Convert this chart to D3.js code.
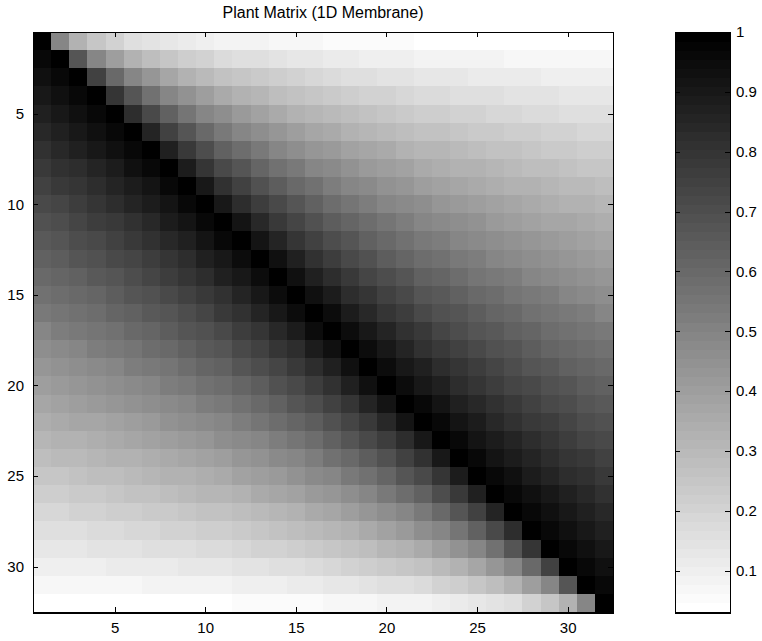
<!DOCTYPE html>
<html>
<head>
<meta charset="utf-8">
<script src="https://cdn.jsdelivr.net/npm/d3@7"></script>
<style>
  html, body { margin: 0; padding: 0; background: #fff; }
  svg { display: block; font-family: "Liberation Sans", Arial, Helvetica, sans-serif; }
</style>
</head>
<body>
<svg id="chart" width="762" height="641"></svg>
<script>
// Normalised plant (influence) matrix of a 1D membrane, 32 x 32, row by row.
const plantMatrix = [
  [1,.500,.333,.250,.200,.167,.143,.125,.111,.100,.091,.083,.077,.071,.067,.063,.059,.056,.053,.050,.048,.045,.043,.042,.040,.038,.037,.036,.034,.033,.032,.031],
  [.969,1,.667,.500,.400,.333,.286,.250,.222,.200,.182,.167,.154,.143,.133,.125,.118,.111,.105,.100,.095,.091,.087,.083,.080,.077,.074,.071,.069,.067,.065,.063],
  [.938,.968,1,.750,.600,.500,.429,.375,.333,.300,.273,.250,.231,.214,.200,.188,.176,.167,.158,.150,.143,.136,.130,.125,.120,.115,.111,.107,.103,.100,.097,.094],
  [.906,.935,.967,1,.800,.667,.571,.500,.444,.400,.364,.333,.308,.286,.267,.250,.235,.222,.211,.200,.190,.182,.174,.167,.160,.154,.148,.143,.138,.133,.129,.125],
  [.875,.903,.933,.966,1,.833,.714,.625,.556,.500,.455,.417,.385,.357,.333,.313,.294,.278,.263,.250,.238,.227,.217,.208,.200,.192,.185,.179,.172,.167,.161,.156],
  [.844,.871,.900,.931,.964,1,.857,.750,.667,.600,.545,.500,.462,.429,.400,.375,.353,.333,.316,.300,.286,.273,.261,.250,.240,.231,.222,.214,.207,.200,.194,.188],
  [.813,.839,.867,.897,.929,.963,1,.875,.778,.700,.636,.583,.538,.500,.467,.438,.412,.389,.368,.350,.333,.318,.304,.292,.280,.269,.259,.250,.241,.233,.226,.219],
  [.781,.806,.833,.862,.893,.926,.962,1,.889,.800,.727,.667,.615,.571,.533,.500,.471,.444,.421,.400,.381,.364,.348,.333,.320,.308,.296,.286,.276,.267,.258,.250],
  [.750,.774,.800,.828,.857,.889,.923,.960,1,.900,.818,.750,.692,.643,.600,.563,.529,.500,.474,.450,.429,.409,.391,.375,.360,.346,.333,.321,.310,.300,.290,.281],
  [.719,.742,.767,.793,.821,.852,.885,.920,.958,1,.909,.833,.769,.714,.667,.625,.588,.556,.526,.500,.476,.455,.435,.417,.400,.385,.370,.357,.345,.333,.323,.313],
  [.688,.710,.733,.759,.786,.815,.846,.880,.917,.957,1,.917,.846,.786,.733,.688,.647,.611,.579,.550,.524,.500,.478,.458,.440,.423,.407,.393,.379,.367,.355,.344],
  [.656,.677,.700,.724,.750,.778,.808,.840,.875,.913,.955,1,.923,.857,.800,.750,.706,.667,.632,.600,.571,.545,.522,.500,.480,.462,.444,.429,.414,.400,.387,.375],
  [.625,.645,.667,.690,.714,.741,.769,.800,.833,.870,.909,.952,1,.929,.867,.813,.765,.722,.684,.650,.619,.591,.565,.542,.520,.500,.481,.464,.448,.433,.419,.406],
  [.594,.613,.633,.655,.679,.704,.731,.760,.792,.826,.864,.905,.950,1,.933,.875,.824,.778,.737,.700,.667,.636,.609,.583,.560,.538,.519,.500,.483,.467,.452,.438],
  [.563,.581,.600,.621,.643,.667,.692,.720,.750,.783,.818,.857,.900,.947,1,.938,.882,.833,.789,.750,.714,.682,.652,.625,.600,.577,.556,.536,.517,.500,.484,.469],
  [.531,.548,.567,.586,.607,.630,.654,.680,.708,.739,.773,.810,.850,.895,.944,1,.941,.889,.842,.800,.762,.727,.696,.667,.640,.615,.593,.571,.552,.533,.516,.500],
  [.500,.516,.533,.552,.571,.593,.615,.640,.667,.696,.727,.762,.800,.842,.889,.941,1,.944,.895,.850,.810,.773,.739,.708,.680,.654,.630,.607,.586,.567,.548,.531],
  [.469,.484,.500,.517,.536,.556,.577,.600,.625,.652,.682,.714,.750,.789,.833,.882,.938,1,.947,.900,.857,.818,.783,.750,.720,.692,.667,.643,.621,.600,.581,.563],
  [.438,.452,.467,.483,.500,.519,.538,.560,.583,.609,.636,.667,.700,.737,.778,.824,.875,.933,1,.950,.905,.864,.826,.792,.760,.731,.704,.679,.655,.633,.613,.594],
  [.406,.419,.433,.448,.464,.481,.500,.520,.542,.565,.591,.619,.650,.684,.722,.765,.813,.867,.929,1,.952,.909,.870,.833,.800,.769,.741,.714,.690,.667,.645,.625],
  [.375,.387,.400,.414,.429,.444,.462,.480,.500,.522,.545,.571,.600,.632,.667,.706,.750,.800,.857,.923,1,.955,.913,.875,.840,.808,.778,.750,.724,.700,.677,.656],
  [.344,.355,.367,.379,.393,.407,.423,.440,.458,.478,.500,.524,.550,.579,.611,.647,.688,.733,.786,.846,.917,1,.957,.917,.880,.846,.815,.786,.759,.733,.710,.688],
  [.313,.323,.333,.345,.357,.370,.385,.400,.417,.435,.455,.476,.500,.526,.556,.588,.625,.667,.714,.769,.833,.909,1,.958,.920,.885,.852,.821,.793,.767,.742,.719],
  [.281,.290,.300,.310,.321,.333,.346,.360,.375,.391,.409,.429,.450,.474,.500,.529,.563,.600,.643,.692,.750,.818,.900,1,.960,.923,.889,.857,.828,.800,.774,.750],
  [.250,.258,.267,.276,.286,.296,.308,.320,.333,.348,.364,.381,.400,.421,.444,.471,.500,.533,.571,.615,.667,.727,.800,.889,1,.962,.926,.893,.862,.833,.806,.781],
  [.219,.226,.233,.241,.250,.259,.269,.280,.292,.304,.318,.333,.350,.368,.389,.412,.438,.467,.500,.538,.583,.636,.700,.778,.875,1,.963,.929,.897,.867,.839,.813],
  [.188,.194,.200,.207,.214,.222,.231,.240,.250,.261,.273,.286,.300,.316,.333,.353,.375,.400,.429,.462,.500,.545,.600,.667,.750,.857,1,.964,.931,.900,.871,.844],
  [.156,.161,.167,.172,.179,.185,.192,.200,.208,.217,.227,.238,.250,.263,.278,.294,.313,.333,.357,.385,.417,.455,.500,.556,.625,.714,.833,1,.966,.933,.903,.875],
  [.125,.129,.133,.138,.143,.148,.154,.160,.167,.174,.182,.190,.200,.211,.222,.235,.250,.267,.286,.308,.333,.364,.400,.444,.500,.571,.667,.800,1,.967,.935,.906],
  [.094,.097,.100,.103,.107,.111,.115,.120,.125,.130,.136,.143,.150,.158,.167,.176,.188,.200,.214,.231,.250,.273,.300,.333,.375,.429,.500,.600,.750,1,.968,.938],
  [.063,.065,.067,.069,.071,.074,.077,.080,.083,.087,.091,.095,.100,.105,.111,.118,.125,.133,.143,.154,.167,.182,.200,.222,.250,.286,.333,.400,.500,.667,1,.969],
  [.031,.032,.033,.034,.036,.037,.038,.040,.042,.043,.045,.048,.050,.053,.056,.059,.063,.067,.071,.077,.083,.091,.100,.111,.125,.143,.167,.200,.250,.333,.500,1]
];

// Actuator / sensor indices along each axis
const indices = d3.range(1, 33);
const axisTicks = [5, 10, 15, 20, 25, 30];
const colorbarTicks = [0.1, 0.2, 0.3, 0.4, 0.5, 0.6, 0.7, 0.8, 0.9, 1];
const chartTitle = "Plant Matrix (1D Membrane)";

const svg = d3.select("#chart");

// Layout
const plot = { left: 33, top: 32, width: 580, height: 580 };
const cbar = { left: 675, top: 32, width: 55, height: 580 };
const tickLen = 5;
const fontSize = 15;

// Inverted 64-level gray colormap (white = low, black = high)
const levels = 64;
const allValues = plantMatrix.flat();
const cmin = d3.min(allValues);
const cmax = d3.max(allValues);
function levelOf(v) {
  const k = Math.floor((v - cmin) / (cmax - cmin) * levels);
  return Math.max(0, Math.min(levels - 1, k));
}
function grayOf(k) {
  const g = Math.round(255 * (1 - k / (levels - 1)));
  return d3.rgb(g, g, g).formatHex();
}

// Scales
const x = d3.scaleBand().domain(indices).range([plot.left, plot.left + plot.width]).padding(0);
const y = d3.scaleBand().domain(indices).range([plot.top, plot.top + plot.height]).padding(0);

// Matrix cells
const cells = [];
plantMatrix.forEach((row, i) => row.forEach((v, j) => cells.push({ r: i + 1, c: j + 1, v })));

svg.append("g")
  .attr("shape-rendering", "crispEdges")
  .selectAll("rect")
  .data(cells)
  .join("rect")
  .attr("x", d => x(d.c))
  .attr("y", d => y(d.r))
  .attr("width", x.bandwidth() + 0.5)
  .attr("height", y.bandwidth() + 0.5)
  .attr("fill", d => grayOf(levelOf(d.v)));

// Axes (ticks inward on all four sides)
const center = s => d => s(d) + s.bandwidth() / 2;
const axisStyle = g => {
  g.select(".domain").remove();
  g.selectAll("line").attr("stroke", "#000").attr("shape-rendering", "crispEdges");
  g.selectAll("text").attr("font-size", fontSize).attr("fill", "#000")
    .attr("font-family", "Liberation Sans, Arial, sans-serif");
};
const xPos = center(x), yPos = center(y);
const xs = d3.scalePoint().domain(indices).range([xPos(1), xPos(32)]);
const ys = d3.scalePoint().domain(indices).range([yPos(1), yPos(32)]);

svg.append("g")
  .attr("transform", `translate(0,${plot.top + plot.height})`)
  .call(d3.axisBottom(xs).tickValues(axisTicks).tickSizeInner(-tickLen).tickSizeOuter(0).tickPadding(tickLen + 5))
  .call(axisStyle);
svg.append("g")
  .attr("transform", `translate(0,${plot.top})`)
  .call(d3.axisTop(xs).tickValues(axisTicks).tickSizeInner(-tickLen).tickSizeOuter(0).tickFormat(""))
  .call(axisStyle);
svg.append("g")
  .attr("transform", `translate(${plot.left},0)`)
  .call(d3.axisLeft(ys).tickValues(axisTicks).tickSizeInner(-tickLen).tickSizeOuter(0).tickPadding(tickLen + 4))
  .call(axisStyle);
svg.append("g")
  .attr("transform", `translate(${plot.left + plot.width},0)`)
  .call(d3.axisRight(ys).tickValues(axisTicks).tickSizeInner(-tickLen).tickSizeOuter(0).tickFormat(""))
  .call(axisStyle);

// Plot frame
const frame = svg.append("g").attr("stroke", "#000").attr("fill", "none");
frame.append("rect")
  .attr("x", plot.left + 0.5).attr("y", plot.top + 0.5)
  .attr("width", plot.width).attr("height", plot.height);
frame.append("line")
  .attr("x1", plot.left).attr("x2", plot.left + plot.width + 1)
  .attr("y1", plot.top + plot.height + 1).attr("y2", plot.top + plot.height + 1)
  .attr("stroke-width", 2);

// Title
svg.append("text")
  .attr("x", plot.left + plot.width / 2)
  .attr("y", 18)
  .attr("text-anchor", "middle")
  .attr("font-size", 16)
  .attr("fill", "#000")
  .text(chartTitle);

// Colorbar
const cy = d3.scaleLinear().domain([cmin, cmax]).range([cbar.top + cbar.height, cbar.top]);
const bands = d3.range(levels);
svg.append("g")
  .attr("shape-rendering", "crispEdges")
  .selectAll("rect")
  .data(bands)
  .join("rect")
  .attr("x", cbar.left)
  .attr("width", cbar.width)
  .attr("y", k => cy(cmin + (k + 1) * (cmax - cmin) / levels))
  .attr("height", k => cy(cmin + k * (cmax - cmin) / levels) - cy(cmin + (k + 1) * (cmax - cmin) / levels) + 0.5)
  .attr("fill", k => grayOf(k));

svg.append("g")
  .attr("transform", `translate(${cbar.left + cbar.width},0)`)
  .call(d3.axisRight(cy).tickValues(colorbarTicks).tickFormat(d3.format("~g")).tickSizeInner(-tickLen).tickSizeOuter(0).tickPadding(tickLen + 1))
  .call(axisStyle);
svg.append("g")
  .attr("transform", `translate(${cbar.left},0)`)
  .call(d3.axisLeft(cy).tickValues(colorbarTicks).tickSizeInner(-tickLen).tickSizeOuter(0).tickFormat(""))
  .call(axisStyle);

const cframe = svg.append("g").attr("stroke", "#000").attr("fill", "none");
cframe.append("rect")
  .attr("x", cbar.left + 0.5).attr("y", cbar.top + 0.5)
  .attr("width", cbar.width).attr("height", cbar.height);
cframe.append("line")
  .attr("x1", cbar.left).attr("x2", cbar.left + cbar.width + 1)
  .attr("y1", cbar.top + cbar.height + 1).attr("y2", cbar.top + cbar.height + 1)
  .attr("stroke-width", 2);
</script>
</body>
</html>
